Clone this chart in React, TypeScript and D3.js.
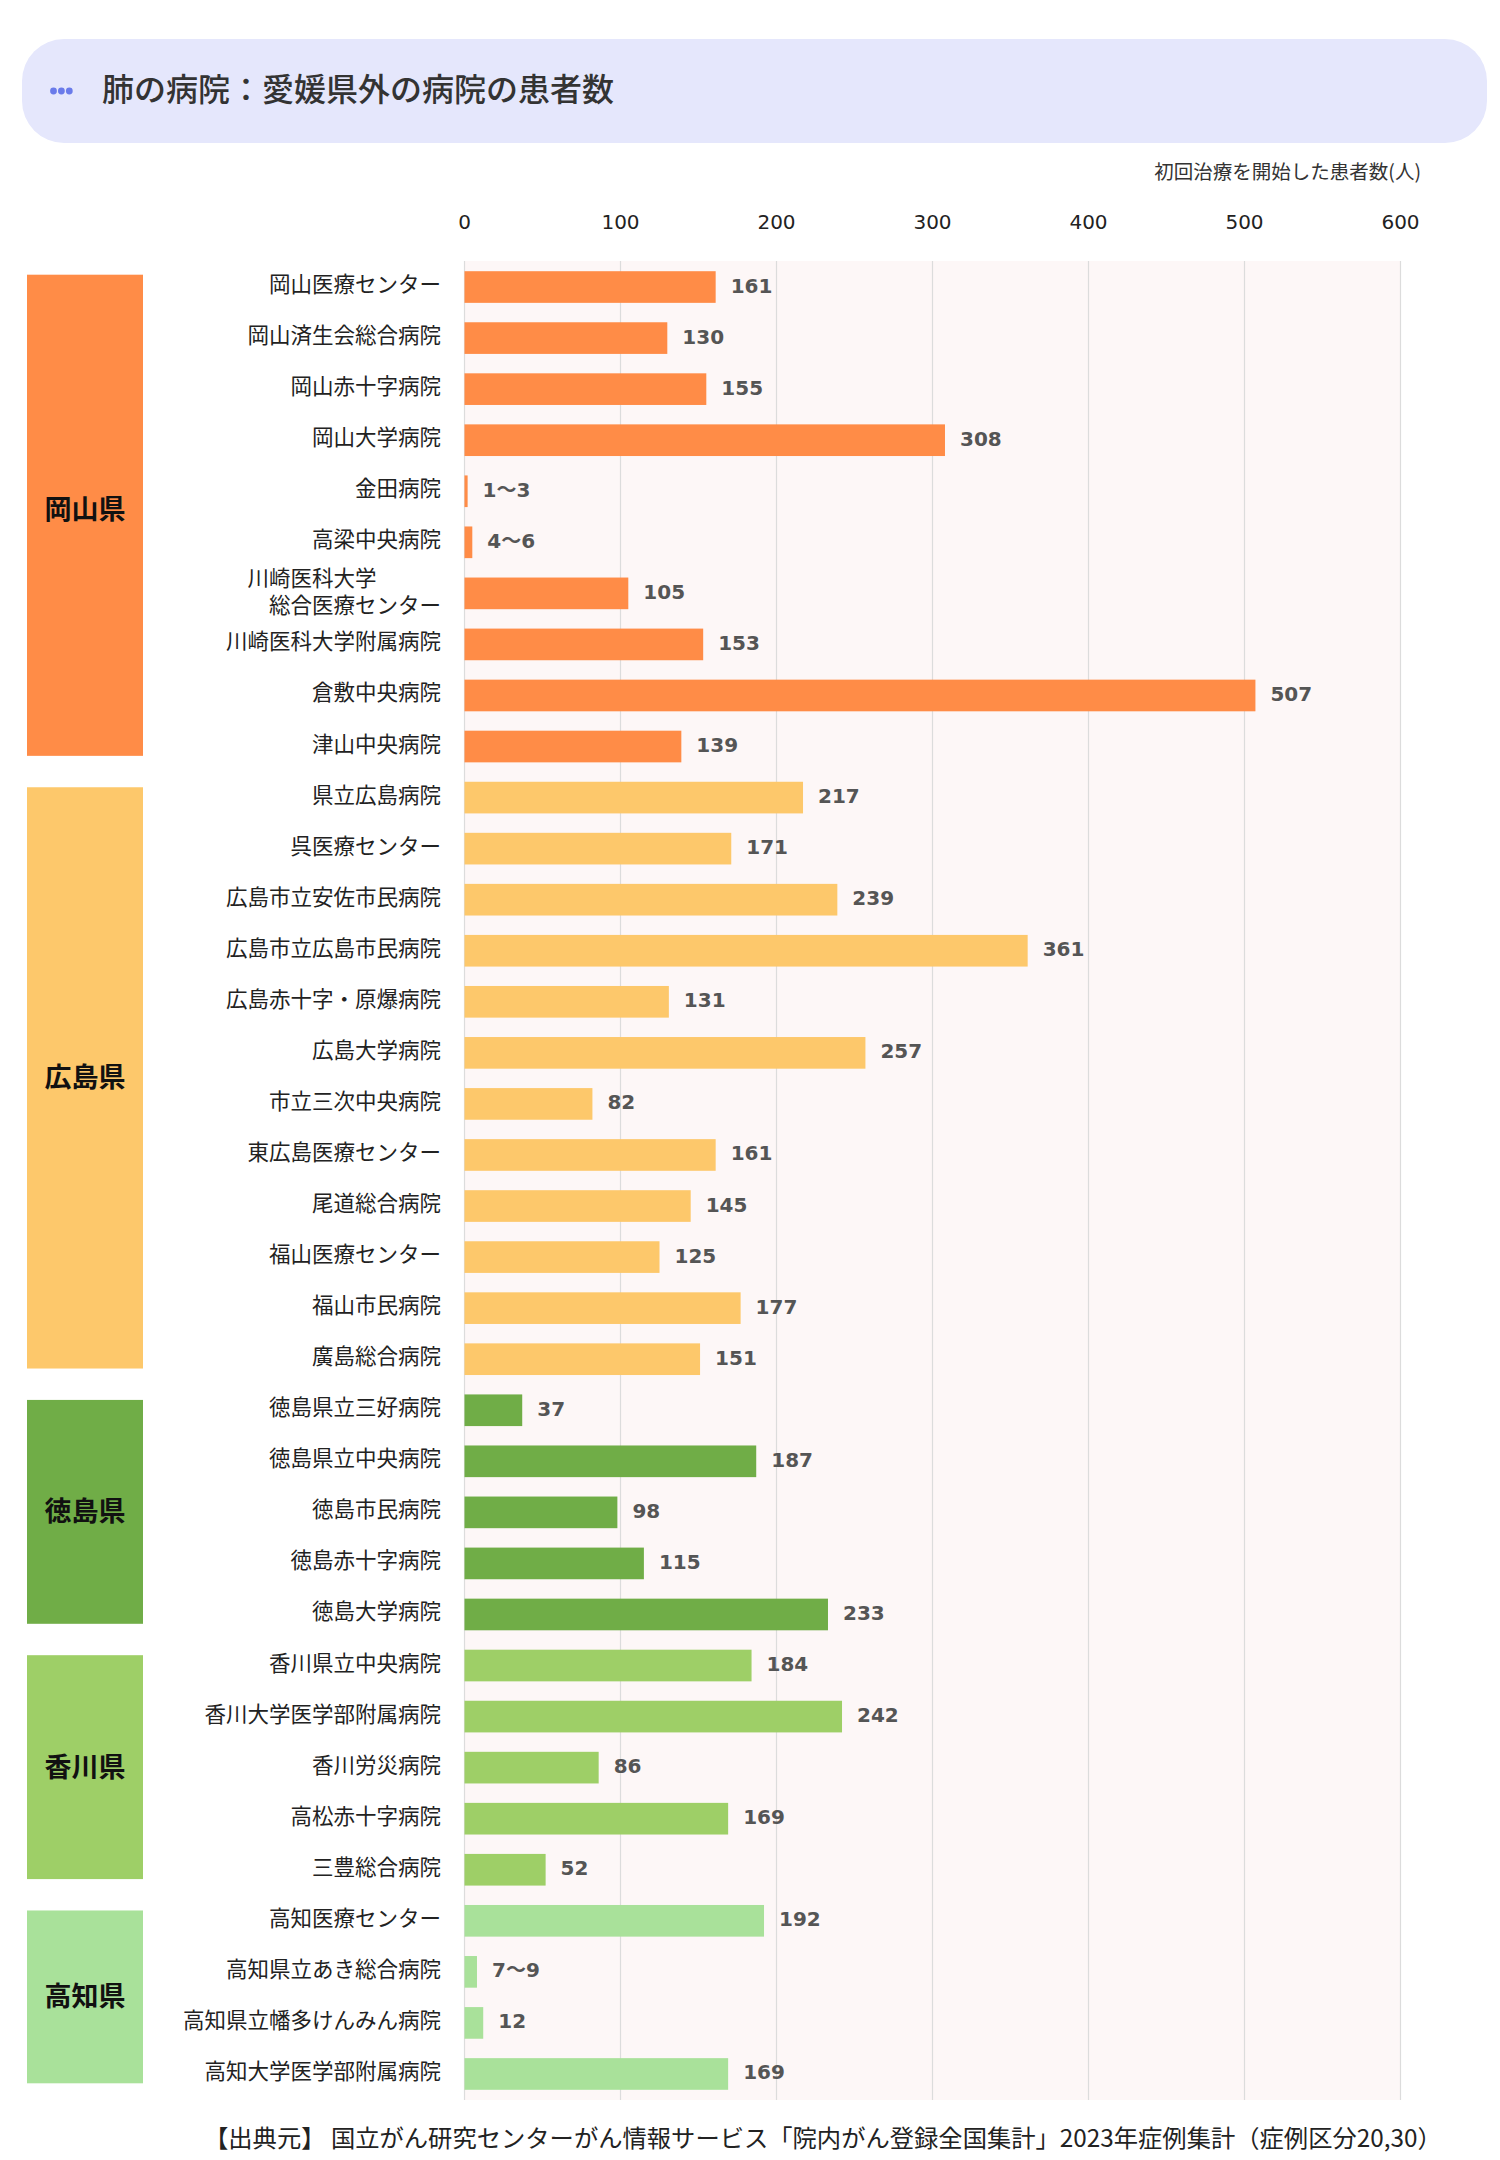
import React from "react";
import * as d3 from "d3";

const hospitalNames = [
  "岡山医療センター", "岡山済生会総合病院", "岡山赤十字病院", "岡山大学病院", "金田病院", "高梁中央病院",
  "川崎医科大学\n総合医療センター", "川崎医科大学附属病院", "倉敷中央病院", "津山中央病院",
  "県立広島病院", "呉医療センター", "広島市立安佐市民病院", "広島市立広島市民病院", "広島赤十字・原爆病院",
  "広島大学病院", "市立三次中央病院", "東広島医療センター", "尾道総合病院", "福山医療センター", "福山市民病院", "廣島総合病院",
  "徳島県立三好病院", "徳島県立中央病院", "徳島市民病院", "徳島赤十字病院", "徳島大学病院",
  "香川県立中央病院", "香川大学医学部附属病院", "香川労災病院", "高松赤十字病院", "三豊総合病院",
  "高知医療センター", "高知県立あき総合病院", "高知県立幡多けんみん病院", "高知大学医学部附属病院",
];

const patientCounts = [
  161, 130, 155, 308, 2, 5, 105, 153, 507, 139,
  217, 171, 239, 361, 131, 257, 82, 161, 145, 125, 177, 151,
  37, 187, 98, 115, 233,
  184, 242, 86, 169, 52,
  192, 8, 12, 169,
];

const countLabels = [
  "161", "130", "155", "308", "1～3", "4～6", "105", "153", "507", "139",
  "217", "171", "239", "361", "131", "257", "82", "161", "145", "125", "177", "151",
  "37", "187", "98", "115", "233",
  "184", "242", "86", "169", "52",
  "192", "7～9", "12", "169",
];

const prefectureNames = ["岡山県", "広島県", "徳島県", "香川県", "高知県"];
const prefectureSizes = [10, 12, 5, 5, 4];
const prefectureColors = ["#FF8C47", "#FDC86B", "#70AD47", "#9ECF67", "#A9E19A"];

const xTicks = [0, 100, 200, 300, 400, 500, 600];

const titleText = "肺の病院：愛媛県外の病院の患者数";
const unitText = "初回治療を開始した患者数(人)";
const sourceText = "【出典元】 国立がん研究センターがん情報サービス「院内がん登録全国集計」2023年症例集計（症例区分20,30）";

const FONT = "'Noto Sans CJK JP', 'Noto Sans', sans-serif";
const NUMFONT = "'DejaVu Sans', 'Noto Sans CJK JP', sans-serif";

export default function App() {
  const W = 1500;
  const H = 2160;
  const plotTop = 261;
  const plotBottom = 2100;

  const x = d3.scaleLinear().domain([0, 600]).range([464.5, 1400.5]);
  const idx = hospitalNames.map((_, i) => i);
  const y = d3
    .scaleBand<number>()
    .domain(idx)
    .range([plotTop, plotBottom - 1])
    .paddingInner(0.38)
    .paddingOuter(0.19);
  const bw = y.bandwidth();

  const groupOf: number[] = [];
  prefectureSizes.forEach((n, g) => {
    for (let k = 0; k < n; k++) groupOf.push(g);
  });

  const groups = prefectureSizes.map((n, g) => {
    const start = d3.sum(prefectureSizes.slice(0, g));
    const end = start + n - 1;
    const top = (y(start) as number) + (g === 0 ? 4 : 6);
    const bottom = (y(end) as number) + bw - 6;
    return { name: prefectureNames[g], color: prefectureColors[g], top, bottom };
  });

  const labelX = 441;
  const cjkShift = -4;

  return (
    <>
      <style>{`body{margin:0;background:#fff}`}</style>
      <svg width={W} height={H} style={{ display: "block", background: "#fff" }} fontFamily={FONT}>
        {/* title banner */}
        <rect x={22} y={39} width={1465} height={104} rx={42} ry={42} fill="#E5E7FC" />
        {[0, 1, 2].map((k) => (
          <circle key={k} cx={53.5 + k * 7.9} cy={91} r={3.4} fill="#6A7BEA" />
        ))}
        <text x={102} y={91 + cjkShift} dominantBaseline="central" fontSize={32} fill="#333" fontWeight={500}>
          {titleText}
        </text>

        {/* unit label */}
        <text x={1421} y={170.5} dominantBaseline="central" textAnchor="end" fontSize={19.5} fill="#333">
          {unitText}
        </text>

        {/* tick labels */}
        {xTicks.map((t) => (
          <text
            key={t}
            x={x(t)}
            y={222}
            dominantBaseline="central"
            textAnchor="middle"
            fontSize={20}
            fontFamily={NUMFONT}
            fill="#222"
          >
            {t}
          </text>
        ))}

        {/* plot background */}
        <rect x={x(0)} y={plotTop} width={x(600) - x(0)} height={plotBottom - plotTop} fill="#FDF7F7" />
        {xTicks.map((t) => (
          <line key={t} x1={x(t)} x2={x(t)} y1={plotTop} y2={plotBottom} stroke="#DCDCDC" strokeWidth={1.2} />
        ))}

        {/* bars */}
        {patientCounts.map((v, i) => (
          <rect
            key={i}
            x={x(0)}
            y={(y(i) as number) + 0.5}
            width={x(v) - x(0)}
            height={bw}
            fill={prefectureColors[groupOf[i]]}
          />
        ))}

        {/* value labels */}
        {patientCounts.map((v, i) => (
          <text
            key={i}
            x={x(v) + 15}
            y={(y(i) as number) + bw / 2 - 1}
            dominantBaseline="central"
            fontSize={20}
            fontWeight={700}
            fontFamily={NUMFONT}
            fill="#555"
          >
            {countLabels[i]}
          </text>
        ))}

        {/* hospital labels */}
        {hospitalNames.map((name, i) => {
          const cy = (y(i) as number) + bw / 2 + cjkShift;
          const lines = name.split("\n");
          if (lines.length === 1) {
            return (
              <text key={i} x={labelX} y={cy} dominantBaseline="central" textAnchor="end" fontSize={21.5} fill="#222">
                {name}
              </text>
            );
          }
          return (
            <text key={i} fontSize={21.5} fill="#222" textAnchor="end" dominantBaseline="central">
              <tspan x={labelX - 3 * 21.5} y={cy + 1 - 13.5}>
                {lines[0]}
              </tspan>
              <tspan x={labelX} y={cy + 1 + 13.5}>
                {lines[1]}
              </tspan>
            </text>
          );
        })}

        {/* prefecture blocks */}
        {groups.map((g, gi) => (
          <g key={g.name}>
            <rect x={27} y={g.top} width={116} height={g.bottom - g.top} fill={g.color} />
            <text
              x={85}
              y={(g.top + g.bottom) / 2 + (gi === 0 ? -8 : -2)}
              dominantBaseline="central"
              textAnchor="middle"
              fontSize={27}
              fontWeight={700}
              fill="#111"
            >
              {g.name}
            </text>
          </g>
        ))}

        {/* source */}
        <text x={204} y={2140 + cjkShift} dominantBaseline="central" fontSize={24.3} fill="#222">
          {sourceText}
        </text>
      </svg>
    </>
  );
}
